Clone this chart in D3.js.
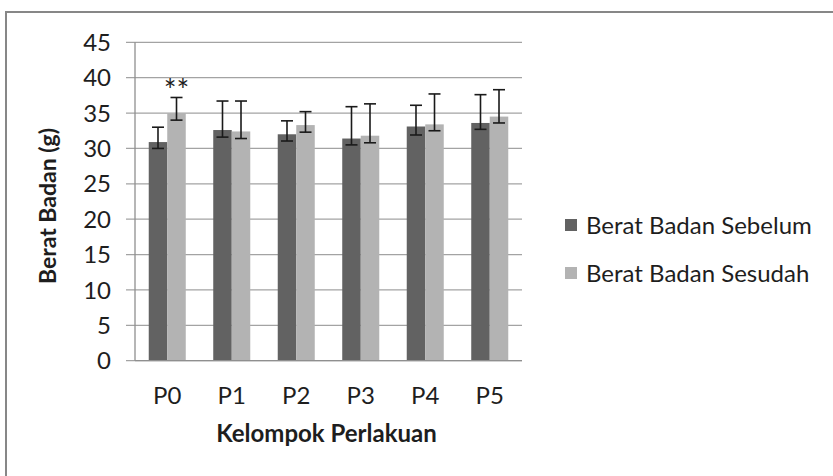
<!DOCTYPE html>
<html>
<head>
<meta charset="utf-8">
<script src="https://cdn.jsdelivr.net/npm/d3@7/dist/d3.min.js"></script>
<style>
  body { margin: 0; background: #fff; }
  text { font-family: Lato, "Open Sans", sans-serif; fill: #1e1e1e; }
</style>
</head>
<body>
<div id="chart"></div>
<script>
// data
let kelompok = ["P0", "P1", "P2", "P3", "P4", "P5"];
let seriesNames = ["Berat Badan Sebelum", "Berat Badan Sesudah"];
let sebelum = [30.9, 32.6, 32.0, 31.4, 33.1, 33.6];
let sesudah = [35.0, 32.4, 33.3, 31.8, 33.4, 34.5];
// error bars (up / down)
let sebelumPlus = [2.1, 4.1, 1.9, 4.5, 3.0, 4.0];
let sebelumMinus = [0.9, 1.0, 0.95, 0.9, 1.2, 0.9];
let sesudahPlus = [2.2, 4.3, 1.9, 4.5, 4.3, 3.8];
let sesudahMinus = [1.0, 1.0, 1.0, 1.0, 0.9, 0.9];
let yTicks = [0, 5, 10, 15, 20, 25, 30, 35, 40, 45];
let colors = ["#626262", "#b3b3b3"];

let width = 833, height = 476;
let plot = { left: 135, right: 522, top: 42.3, bottom: 360.7 };

let svg = d3.select("#chart").append("svg")
  .attr("width", width)
  .attr("height", height);

// outer chart border (only top and left edges are in the picture)
svg.append("path")
  .attr("d", "M6," + (height + 5) + "V12H" + (width + 5))
  .attr("fill", "none")
  .attr("stroke", "#878787")
  .attr("stroke-width", 2);

let y = d3.scaleLinear().domain([0, 45]).range([plot.bottom, plot.top]);

let x = d3.scaleBand()
  .domain(kelompok)
  .range([plot.left, plot.right])
  .paddingInner(0.426)
  .paddingOuter(0.213);

let xs = d3.scaleBand()
  .domain([0, 1])
  .range([0, x.bandwidth()]);

// gridlines
svg.append("g")
  .selectAll("line")
  .data(yTicks)
  .enter()
  .append("line")
  .attr("x1", plot.left - 9)
  .attr("x2", plot.right)
  .attr("y1", d => y(d))
  .attr("y2", d => y(d))
  .attr("stroke", "#a3a3a3")
  .attr("stroke-width", 1.3);

// y axis line
svg.append("line")
  .attr("x1", plot.left).attr("x2", plot.left)
  .attr("y1", plot.top).attr("y2", plot.bottom)
  .attr("stroke", "#8f8f8f")
  .attr("stroke-width", 1.3);

// y tick labels
svg.append("g")
  .selectAll("text")
  .data(yTicks)
  .enter()
  .append("text")
  .attr("x", 111)
  .attr("y", d => y(d))
  .attr("dy", "0.36em")
  .attr("text-anchor", "end")
  .style("font-size", "24px")
  .text(d => d);

// bars
let rows = kelompok.map((k, i) => ({
  k: k,
  vals: [
    { s: 0, v: sebelum[i], up: sebelumPlus[i], down: sebelumMinus[i] },
    { s: 1, v: sesudah[i], up: sesudahPlus[i], down: sesudahMinus[i] }
  ]
}));

let group = svg.append("g")
  .selectAll("g")
  .data(rows)
  .enter()
  .append("g")
  .attr("transform", d => "translate(" + x(d.k) + ",0)");

group.selectAll("rect")
  .data(d => d.vals)
  .enter()
  .append("rect")
  .attr("x", d => xs(d.s))
  .attr("width", xs.bandwidth())
  .attr("y", d => y(d.v))
  .attr("height", d => y(0) - y(d.v))
  .attr("fill", d => colors[d.s]);

// error bars
let err = group.selectAll(".err")
  .data(d => d.vals)
  .enter()
  .append("g")
  .classed("err", true)
  .attr("stroke", "#1a1a1a")
  .attr("stroke-width", 1.6);

let cap = 6;
err.append("line")
  .attr("x1", d => xs(d.s) + xs.bandwidth() / 2)
  .attr("x2", d => xs(d.s) + xs.bandwidth() / 2)
  .attr("y1", d => y(d.v + d.up))
  .attr("y2", d => y(d.v - d.down));
err.append("line")
  .attr("x1", d => xs(d.s) + xs.bandwidth() / 2 - cap)
  .attr("x2", d => xs(d.s) + xs.bandwidth() / 2 + cap)
  .attr("y1", d => y(d.v + d.up))
  .attr("y2", d => y(d.v + d.up));
err.append("line")
  .attr("x1", d => xs(d.s) + xs.bandwidth() / 2 - cap)
  .attr("x2", d => xs(d.s) + xs.bandwidth() / 2 + cap)
  .attr("y1", d => y(d.v - d.down))
  .attr("y2", d => y(d.v - d.down));

// significance mark on P0 sesudah
svg.append("text")
  .attr("x", x("P0") + xs(1) + xs.bandwidth() / 2)
  .attr("y", y(sesudah[0] + sesudahPlus[0]) + 4)
  .attr("text-anchor", "middle")
  .style("font-size", "30px")
  .text("**");

// x axis baseline
svg.append("line")
  .attr("x1", plot.left).attr("x2", plot.right)
  .attr("y1", plot.bottom).attr("y2", plot.bottom)
  .attr("stroke", "#8f8f8f")
  .attr("stroke-width", 1.3);

// x labels
svg.append("g")
  .selectAll("text")
  .data(kelompok)
  .enter()
  .append("text")
  .attr("x", d => x(d) + x.bandwidth() / 2)
  .attr("y", 404)
  .attr("text-anchor", "middle")
  .style("font-size", "24px")
  .text(d => d);

// axis titles
svg.append("text")
  .attr("x", (plot.left + plot.right) / 2 - 2)
  .attr("y", 442)
  .attr("text-anchor", "middle")
  .style("font-size", "24px")
  .style("font-weight", "bold")
  .text("Kelompok Perlakuan");

svg.append("text")
  .attr("transform", "translate(56,206) rotate(-90)")
  .attr("text-anchor", "middle")
  .style("font-size", "23px")
  .style("font-weight", "bold")
  .text("Berat Badan (g)");

// legend
let legend = svg.append("g")
  .selectAll("g")
  .data(seriesNames)
  .enter()
  .append("g")
  .attr("transform", (d, i) => "translate(565," + (225 + i * 48) + ")");

legend.append("rect")
  .attr("x", 0)
  .attr("y", -6)
  .attr("width", 12)
  .attr("height", 12)
  .attr("fill", (d, i) => colors[i]);

legend.append("text")
  .attr("x", 21)
  .attr("y", 0)
  .attr("dy", "0.36em")
  .style("font-size", "24px")
  .text(d => d);
</script>
</body>
</html>
